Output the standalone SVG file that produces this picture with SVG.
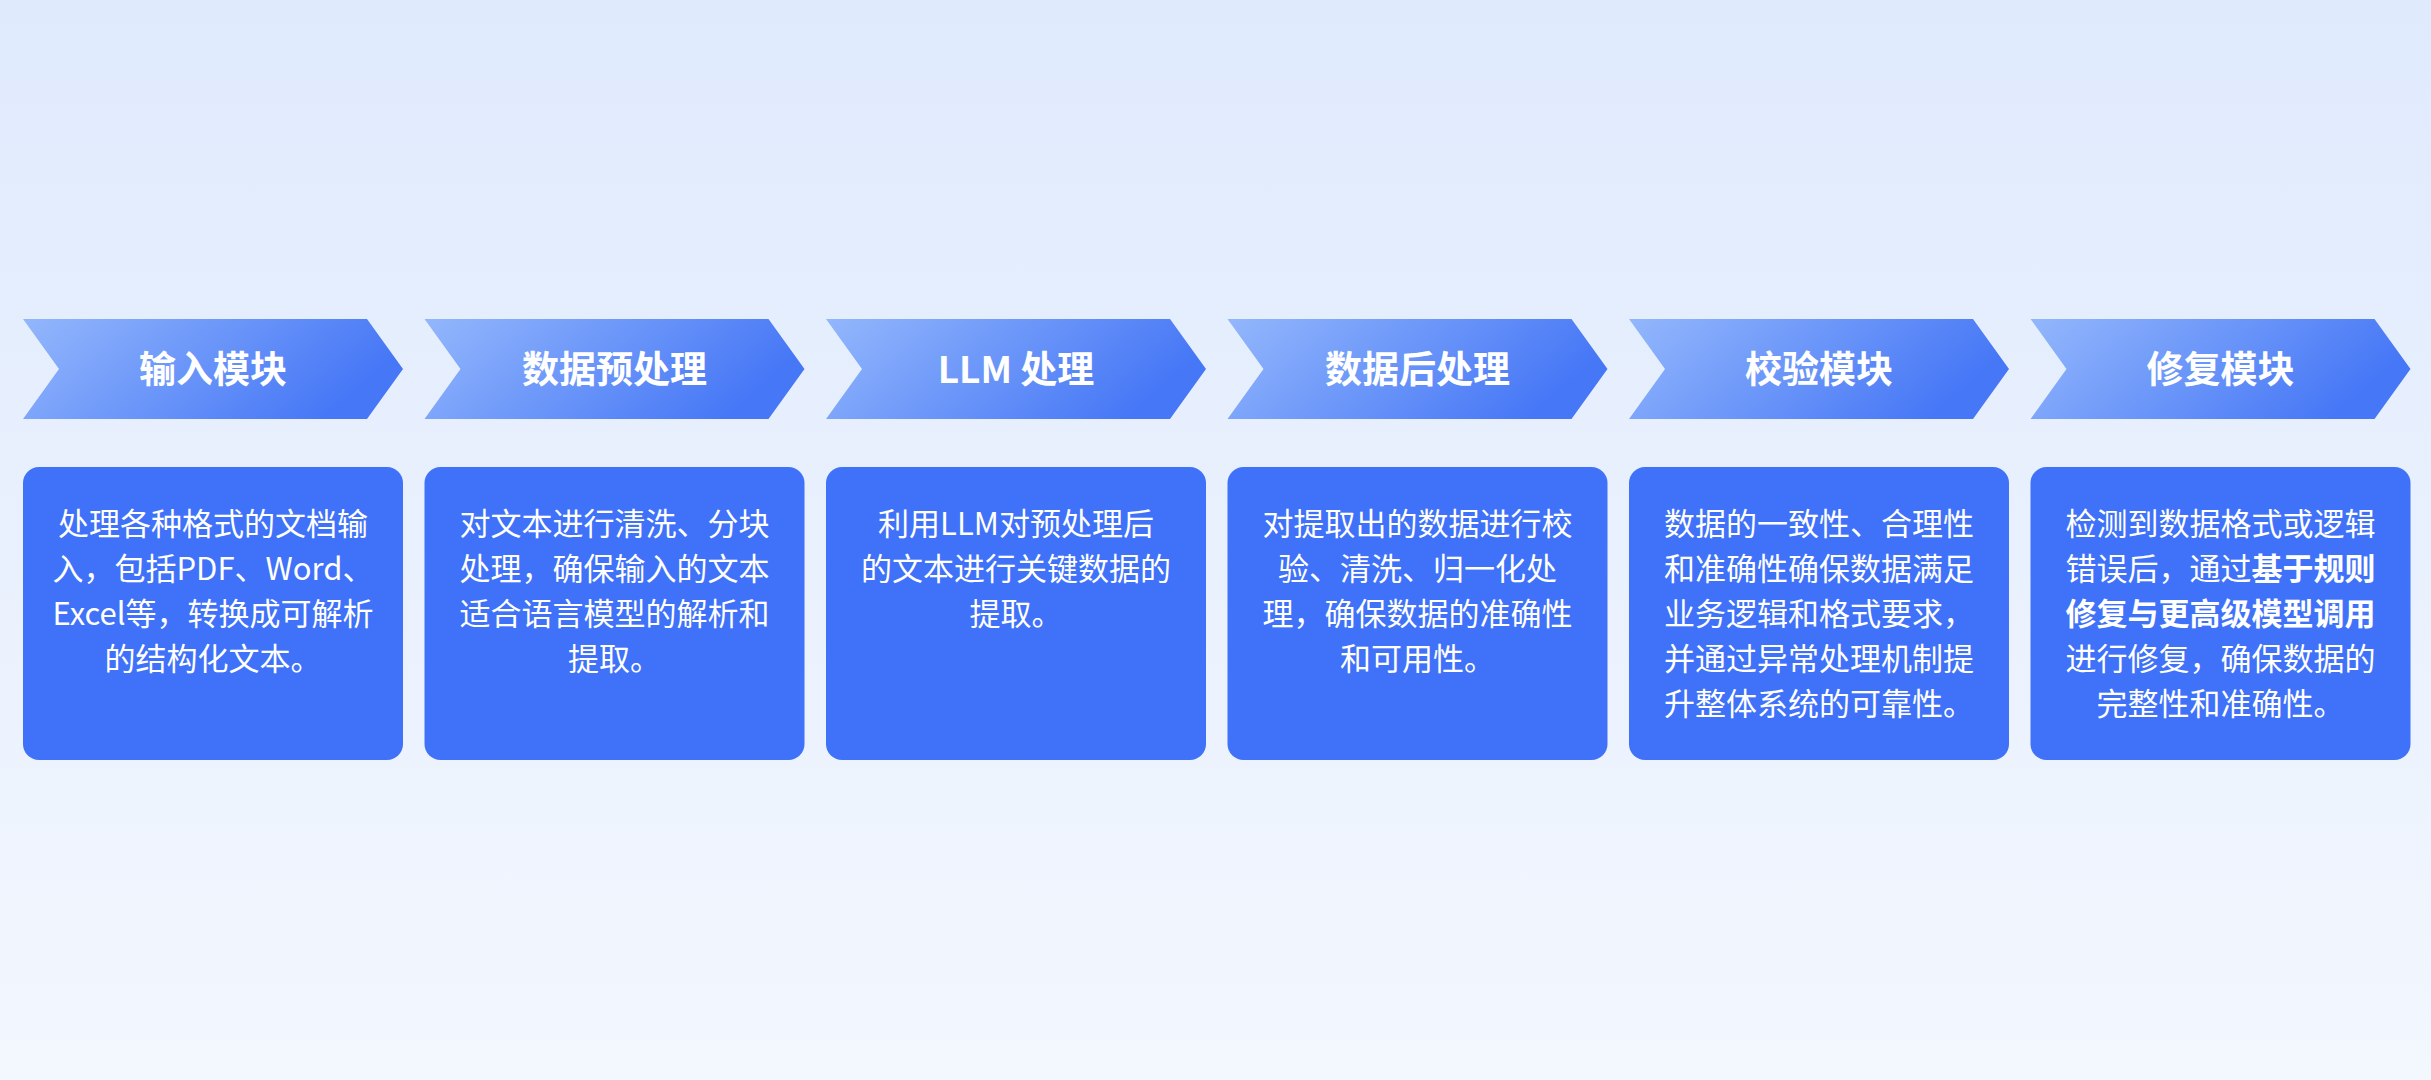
<svg xmlns="http://www.w3.org/2000/svg" width="2431" height="1080" viewBox="0 0 2431 1080">
<defs>
<linearGradient id="bg" x1="0" y1="0" x2="0" y2="1"><stop offset="0" stop-color="#dfeafd"/><stop offset="1" stop-color="#f3f7fe"/></linearGradient>
<linearGradient id="cg" x1="0" y1="0" x2="1" y2="0.3"><stop offset="0" stop-color="#93b7fc"/><stop offset="1" stop-color="#4677f6"/></linearGradient>
<style>
.chev{fill:url(#cg)}
.box{fill:#3f72f8}
.t{font-family:"Noto Sans CJK SC","Noto Sans",sans-serif;font-size:37px;font-weight:700;fill:#fff;text-anchor:middle}
.d{font-family:"Noto Sans CJK SC","Noto Sans",sans-serif;font-size:31px;fill:#fff;text-anchor:middle}
.b{font-weight:700}
</style>
<path id="cv" d="M0,0 H344 L380,50 L344,100 H0 L36,50 Z"/>
</defs>
<rect width="2431" height="1080" fill="url(#bg)"/>
<g id="connectors"/>
<g id="n1" transform="translate(23,0)">
<use href="#cv" class="chev" y="319"/>
<text class="t" x="190" y="383">输入模块</text>
<rect class="box" x="0" y="467" width="380" height="293" rx="16"/>
<text class="d" x="190" y="535">处理各种格式的文档输</text>
<text class="d" x="190" y="580">入，包括PDF、Word、</text>
<text class="d" x="190" y="625">Excel等，转换成可解析</text>
<text class="d" x="190" y="670">的结构化文本。</text>
</g>
<g id="n2" transform="translate(424.5,0)">
<use href="#cv" class="chev" y="319"/>
<text class="t" x="190" y="383">数据预处理</text>
<rect class="box" x="0" y="467" width="380" height="293" rx="16"/>
<text class="d" x="190" y="535">对文本进行清洗、分块</text>
<text class="d" x="190" y="580">处理，确保输入的文本</text>
<text class="d" x="190" y="625">适合语言模型的解析和</text>
<text class="d" x="190" y="670">提取。</text>
</g>
<g id="n3" transform="translate(826,0)">
<use href="#cv" class="chev" y="319"/>
<text class="t" x="190" y="383">LLM 处理</text>
<rect class="box" x="0" y="467" width="380" height="293" rx="16"/>
<text class="d" x="190" y="535">利用LLM对预处理后</text>
<text class="d" x="190" y="580">的文本进行关键数据的</text>
<text class="d" x="190" y="625">提取。</text>
</g>
<g id="n4" transform="translate(1227.5,0)">
<use href="#cv" class="chev" y="319"/>
<text class="t" x="190" y="383">数据后处理</text>
<rect class="box" x="0" y="467" width="380" height="293" rx="16"/>
<text class="d" x="190" y="535">对提取出的数据进行校</text>
<text class="d" x="190" y="580">验、清洗、归一化处</text>
<text class="d" x="190" y="625">理，确保数据的准确性</text>
<text class="d" x="190" y="670">和可用性。</text>
</g>
<g id="n5" transform="translate(1629,0)">
<use href="#cv" class="chev" y="319"/>
<text class="t" x="190" y="383">校验模块</text>
<rect class="box" x="0" y="467" width="380" height="293" rx="16"/>
<text class="d" x="190" y="535">数据的一致性、合理性</text>
<text class="d" x="190" y="580">和准确性确保数据满足</text>
<text class="d" x="190" y="625">业务逻辑和格式要求，</text>
<text class="d" x="190" y="670">并通过异常处理机制提</text>
<text class="d" x="190" y="715">升整体系统的可靠性。</text>
</g>
<g id="n6" transform="translate(2030.5,0)">
<use href="#cv" class="chev" y="319"/>
<text class="t" x="190" y="383">修复模块</text>
<rect class="box" x="0" y="467" width="380" height="293" rx="16"/>
<text class="d" x="190" y="535">检测到数据格式或逻辑</text>
<text class="d" x="190" y="580">错误后，通过<tspan class="b">基于规则</tspan></text>
<text class="d b" x="190" y="625">修复与更高级模型调用</text>
<text class="d" x="190" y="670">进行修复，确保数据的</text>
<text class="d" x="190" y="715">完整性和准确性。</text>
</g>
</svg>
